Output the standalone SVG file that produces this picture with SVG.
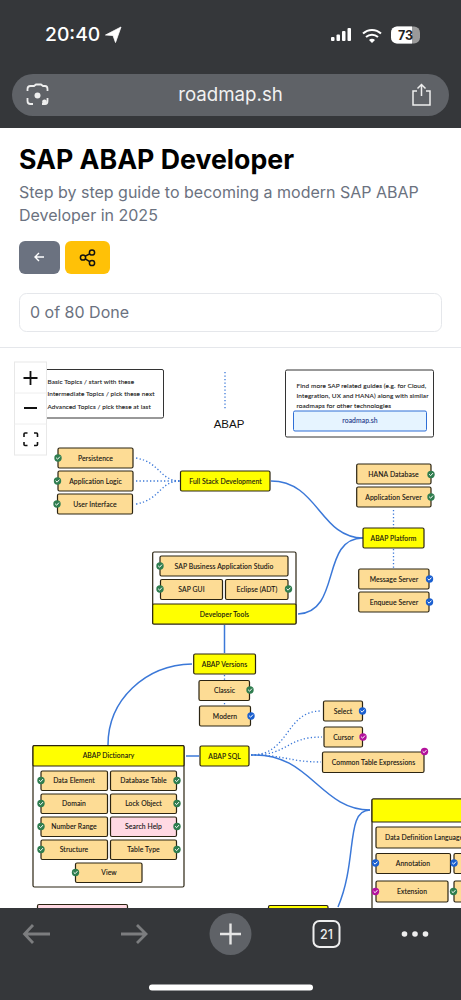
<svg xmlns="http://www.w3.org/2000/svg" width="461" height="1000" viewBox="0 0 461 1000">
<style>
.n{stroke:#2b2412;stroke-width:1.2}
.t{fill:#fddc95}.y{fill:#ffff00}.p{fill:#ffd9e3}
text{font-family:"Lato","Inter","Liberation Sans",sans-serif}
.l{font-size:6.8px;fill:#111;text-anchor:middle;letter-spacing:.1px;stroke:#111;stroke-width:.1}
.lg{font-size:6.4px;fill:#222;letter-spacing:.1px;stroke:#222;stroke-width:.1}
.lk{font-size:6.45px;fill:#222;letter-spacing:.1px;stroke:#222;stroke-width:.1}
.ui{font-family:"Inter","Liberation Sans",sans-serif}
.c{fill:none;stroke:#3b78d8;stroke-width:1.5}
.d{fill:none;stroke:#3b78d8;stroke-width:1.3;stroke-dasharray:1.3 2.2}
.g{fill:#2f7d4f}.b{fill:#1a5fd0}.m{fill:#b3129c}
.k{fill:none;stroke:#fff;stroke-width:1;stroke-linecap:round}
</style>
<defs>
<g id="ck"><circle r="3.7"/><path class="k" d="M-1.6,0 L-.4,1.2 L1.7,-1.1"/></g>
</defs>
<rect width="461" height="1000" fill="#fff"/>

<g id="page-header">
<text class="ui" x="19" y="169" font-size="26.700" font-weight="700" fill="#000">SAP ABAP Developer</text>
<text class="ui" x="19" y="198" font-size="16" fill="#6b7280">Step by step guide to becoming a modern SAP ABAP</text>
<text class="ui" x="19" y="221" font-size="16" fill="#6b7280">Developer in 2025</text>
<rect x="19" y="241" width="41" height="33" rx="6" fill="#6b7280"/>
<path d="M44,257 H35 M39,253 L35,257 L39,261" fill="none" stroke="#fff" stroke-width="1.400"/>
<rect x="65" y="241" width="45" height="33" rx="6" fill="#ffc107"/>
<g fill="none" stroke="#111" stroke-width="1.500"><circle cx="83" cy="257.500" r="2.600"/><circle cx="92" cy="252.500" r="2.600"/><circle cx="92" cy="263" r="2.600"/><path d="M85.300,256.200 L89.700,253.800 M85.300,258.800 L89.700,261.700"/></g>
<rect x="19.500" y="293.500" width="422" height="38" rx="7" fill="#fff" stroke="#e5e7eb"/>
<text class="ui" x="30" y="318" font-size="16" fill="#6b7280">0 of 80 Done</text>
<path d="M0,347.500 H461" stroke="#e5e7eb"/>
</g>

<g id="connectors">
<path class="d" d="M225,372 V410"/>
<path class="d" d="M136,458 C160,462 160,481 180,481"/>
<path class="d" d="M136,481 H180"/>
<path class="d" d="M136,504 C160,500 160,481 180,481"/>
<path class="c" d="M271,481 C318,481 320,538 363,538"/>
<path class="c" d="M298,614 C342,612 320,538 363,538"/>
<path class="d" d="M393.500,510 V528"/>
<path class="d" d="M393.500,549 V569"/>
<path class="c" d="M224.500,625 V653"/>
<path class="c" d="M192,664 C145,665 108,700 108,745"/>
<path class="d" d="M224.500,675 V705"/>
<path class="c" d="M186,756 H199"/>
<path class="d" d="M251,755 C290,755 285,711 321,711"/>
<path class="d" d="M251,755 C290,755 285,737 322,737"/>
<path class="d" d="M251,755 C285,755 290,762 321,762"/>
<path class="c" d="M251,755 C310,752 320,810 370,810"/>
<path class="c" d="M338,907 C358,860 345,810 370,810"/>
</g>

<g id="legend"><rect x="36" y="369.500" width="127.500" height="48.500" rx="1.500" fill="#fff" stroke="#333" stroke-width="1"/>
<text class="lg" x="47.500" y="383.500">Basic Topics / start with these</text>
<text class="lg" x="47.500" y="396">Intermediate Topics / pick these next</text>
<text class="lg" x="47.500" y="408.500">Advanced Topics / pick these at last</text></g>

<g id="zoom-controls"><rect x="14.500" y="362" width="32" height="93" fill="#fff" stroke="#e8e8e8"/>
<path d="M14.500,393 H46.500 M14.500,424 H46.500" stroke="#eee"/>
<path d="M23.500,378 H37.500 M30.500,371 V385 M24,408 H37" stroke="#111" stroke-width="1.800" fill="none"/>
<path d="M24,437 V434 Q24,433 25,433 H27.500 M34,433 H36.500 Q37.500,433 37.500,434 V437 M37.500,442 V444.500 Q37.500,445.500 36.500,445.500 H34 M27.500,445.500 H25 Q24,445.500 24,444.500 V442" stroke="#111" stroke-width="1.600" fill="none"/></g>

<g id="abap-title"><text x="229" y="428" font-size="11.500" text-anchor="middle" fill="#111" style="font-family:'Liberation Sans',sans-serif">ABAP</text></g>

<g id="links-box"><rect x="285.500" y="370" width="148" height="67" rx="1.500" fill="#fff" stroke="#333" stroke-width="1"/>
<text class="lk" x="296.500" y="387.500">Find more SAP related guides (e.g. for Cloud,</text>
<text class="lk" x="296.500" y="397.500">Integration, UX and HANA) along with similar</text>
<text class="lk" x="296.500" y="407.500">roadmaps for other technologies</text>
<rect x="293.500" y="411" width="133" height="20" rx="1.500" fill="#e6f4ff" stroke="#2f6fd6" stroke-width="1"/>
<text class="l" x="360" y="423" style="fill:#1e3a8a;stroke:#1e3a8a">roadmap.sh</text></g>

<g id="persistence"><rect class="n t" x="58" y="448" width="75" height="20" rx="1.500"/><text class="l" x="95.500" y="460.500">Persistence</text><use href="#ck" class="g" x="58" y="458"/></g>
<g id="application-logic"><rect class="n t" x="58" y="471" width="75" height="20" rx="1.500"/><text class="l" x="95.500" y="483.500">Application Logic</text><use href="#ck" class="g" x="57.500" y="481"/></g>
<g id="user-interface"><rect class="n t" x="57.500" y="494" width="75" height="20" rx="1.500"/><text class="l" x="95" y="506.500">User Interface</text><use href="#ck" class="g" x="57" y="504"/></g>
<g id="full-stack"><rect class="n y" x="180.500" y="471" width="89.500" height="20" rx="1.500"/><text class="l" x="225.500" y="483.500">Full Stack Development</text></g>

<g id="hana-database"><rect class="n t" x="356.700" y="464" width="74.300" height="20" rx="1.500"/><text class="l" x="393.500" y="476.500">HANA Database</text><use href="#ck" class="g" x="431" y="474.500"/></g>
<g id="application-server"><rect class="n t" x="356.700" y="487" width="74.300" height="20" rx="1.500"/><text class="l" x="393.500" y="499.500">Application Server</text><use href="#ck" class="g" x="431" y="497"/></g>
<g id="abap-platform"><rect class="n y" x="363" y="528" width="61" height="20" rx="1.500"/><text class="l" x="393.500" y="540.500">ABAP Platform</text></g>
<g id="message-server"><rect class="n t" x="358.700" y="569" width="70.300" height="20" rx="1.500"/><text class="l" x="394" y="581.500">Message Server</text><use href="#ck" class="b" x="429.500" y="579"/></g>
<g id="enqueue-server"><rect class="n t" x="358.700" y="592" width="70.300" height="20" rx="1.500"/><text class="l" x="394" y="604.500">Enqueue Server</text><use href="#ck" class="b" x="429.500" y="602"/></g>

<g id="developer-tools"><rect class="n" x="152.700" y="552" width="143.300" height="72" rx="1.500" fill="#fff"/>
<rect class="n y" x="152.700" y="604" width="143.300" height="20" rx="1"/><text class="l" x="224.500" y="616.500">Developer Tools</text></g>
<g id="sap-bas"><rect class="n t" x="160" y="556" width="128" height="20" rx="1.500"/><text class="l" x="224" y="568.500">SAP Business Application Studio</text><use href="#ck" class="g" x="160" y="566"/></g>
<g id="sap-gui"><rect class="n t" x="160.500" y="579.500" width="62" height="20" rx="1.500"/><text class="l" x="191.500" y="591.500">SAP GUI</text><use href="#ck" class="g" x="160" y="589"/></g>
<g id="eclipse"><rect class="n t" x="225.500" y="579.500" width="62.500" height="20" rx="1.500"/><text class="l" x="257" y="591.500">Eclipse (ADT)</text><use href="#ck" class="g" x="288.500" y="589"/></g>

<g id="abap-versions"><rect class="n y" x="193.700" y="654" width="61.800" height="20" rx="1.500"/><text class="l" x="224.500" y="666.500">ABAP Versions</text></g>
<g id="classic"><rect class="n t" x="199" y="680.500" width="50.500" height="20" rx="1.500"/><text class="l" x="224.500" y="692.500">Classic</text><use href="#ck" class="g" x="250" y="690"/></g>
<g id="modern"><rect class="n t" x="199.500" y="706" width="51" height="20" rx="1.500"/><text class="l" x="225" y="718.500">Modern</text><use href="#ck" class="b" x="251" y="716"/></g>
<g id="abap-sql"><rect class="n y" x="200" y="746" width="49" height="20" rx="1.500"/><text class="l" x="224.500" y="758.500">ABAP SQL</text></g>
<g id="select"><rect class="n t" x="323.500" y="701" width="39" height="20" rx="1.500"/><text class="l" x="343" y="713.500">Select</text><use href="#ck" class="b" x="362.500" y="711"/></g>
<g id="cursor"><rect class="n t" x="324" y="727" width="38.500" height="20" rx="1.500"/><text class="l" x="343.500" y="739.500">Cursor</text><use href="#ck" class="m" x="363" y="737"/></g>
<g id="cte"><rect class="n t" x="322.500" y="752" width="101.500" height="20.500" rx="1.500"/><text class="l" x="373.500" y="764.500">Common Table Expressions</text><use href="#ck" class="m" x="424.500" y="751.500"/></g>

<g id="abap-dictionary"><rect class="n" x="33" y="745.700" width="151" height="141.300" rx="1.500" fill="#fff"/>
<rect class="n y" x="33" y="745.700" width="151" height="20.300" rx="1"/><text class="l" x="108.500" y="758">ABAP Dictionary</text></g>
<g id="data-element"><rect class="n t" x="41" y="771" width="66.500" height="19.500" rx="1.500"/><text class="l" x="74" y="783">Data Element</text><use href="#ck" class="g" x="41" y="780.500"/></g>
<g id="database-table"><rect class="n t" x="110.500" y="771" width="66" height="19.500" rx="1.500"/><text class="l" x="143.500" y="783">Database Table</text><use href="#ck" class="g" x="177" y="780.500"/></g>
<g id="domain"><rect class="n t" x="41" y="794" width="66.500" height="19.500" rx="1.500"/><text class="l" x="74" y="806">Domain</text><use href="#ck" class="g" x="41" y="803.500"/></g>
<g id="lock-object"><rect class="n t" x="110.500" y="794" width="66" height="19.500" rx="1.500"/><text class="l" x="143.500" y="806">Lock Object</text><use href="#ck" class="g" x="177" y="803.500"/></g>
<g id="number-range"><rect class="n t" x="41" y="817" width="66.500" height="19.500" rx="1.500"/><text class="l" x="74" y="829">Number Range</text><use href="#ck" class="g" x="41" y="826.500"/></g>
<g id="search-help"><rect class="n p" x="110.500" y="817" width="66" height="19.500" rx="1.500"/><text class="l" x="143.500" y="829">Search Help</text><use href="#ck" class="g" x="177" y="826.500"/></g>
<g id="structure"><rect class="n t" x="41" y="840" width="66.500" height="19.500" rx="1.500"/><text class="l" x="74" y="852">Structure</text><use href="#ck" class="g" x="41" y="849.500"/></g>
<g id="table-type"><rect class="n t" x="110.500" y="840" width="66" height="19.500" rx="1.500"/><text class="l" x="143.500" y="852">Table Type</text><use href="#ck" class="g" x="177" y="849.500"/></g>
<g id="view"><rect class="n t" x="75.500" y="863" width="66.500" height="19.500" rx="1.500"/><text class="l" x="109" y="875">View</text><use href="#ck" class="g" x="75.500" y="872.500"/></g>

<g id="cds-group"><rect class="n" x="372" y="799" width="100" height="130" rx="1.500" fill="#fff"/>
<rect class="n y" x="372" y="799" width="100" height="23" rx="1"/></g>
<g id="ddl"><rect class="n t" x="376" y="827" width="100" height="21" rx="1.500"/><text class="l" x="385" y="840" style="text-anchor:start">Data Definition Language</text></g>
<g id="annotation"><rect class="n t" x="376" y="853.500" width="74.500" height="20" rx="1.500"/><text class="l" x="413" y="866">Annotation</text><use href="#ck" class="b" x="375.500" y="863"/></g>
<g id="annotation-next"><rect class="n t" x="454" y="853.500" width="20" height="20" rx="1.500"/><use href="#ck" class="b" x="454" y="863"/></g>
<g id="extension"><rect class="n t" x="376" y="881" width="72" height="21" rx="1.500"/><text class="l" x="412" y="894">Extension</text><use href="#ck" class="m" x="375.500" y="891.500"/></g>
<g id="extension-next"><rect class="n t" x="454" y="881" width="20" height="21" rx="1.500"/><use href="#ck" class="g" x="453.500" y="891.500"/></g>
<g id="lower-pink"><rect class="n p" x="37.500" y="904.500" width="90" height="20" rx="1.500"/></g>
<g id="lower-yellow"><rect class="n y" x="268.500" y="905.500" width="59.500" height="20" rx="1.500"/></g>

<g id="browser-top"><rect width="461" height="128" fill="#35373a"/>
<text class="ui" x="45" y="41" font-size="19.300" font-weight="500" fill="#fff">20:40</text>
<path d="M105.500,35 L121,27 L115.500,42.500 L113,35.500 Z" fill="#fff" stroke="#fff" stroke-width=".8"/>
<g fill="#fff"><rect x="331" y="37" width="3.500" height="4" rx="1"/><rect x="336.500" y="34.500" width="3.500" height="6.500" rx="1"/><rect x="342" y="31" width="3.500" height="10" rx="1"/><rect x="347.500" y="28" width="3.500" height="13" rx="1"/></g>
<path d="M363,33.500 A13,13 0 0 1 381,33.500 M366,37 A9,9 0 0 1 378,37" fill="none" stroke="#fff" stroke-width="2"/>
<path d="M369,40 A4,4 0 0 1 375,40 L372,43 Z" fill="#fff"/>
<rect x="391" y="26.500" width="29" height="17" rx="6" fill="#9a9a9a"/>
<path d="M397,26.500 H412 V43.500 H397 A6,6 0 0 1 391,37.500 V32.500 A6,6 0 0 1 397,26.500 Z" fill="#fff"/>
<text x="405.500" y="39.500" font-size="12.500" font-weight="700" text-anchor="middle" fill="#222" class="ui">73</text>
<rect x="12" y="74" width="437" height="42" rx="21" fill="#5f6267"/>
<text class="ui" x="230.500" y="101" font-size="18.700" text-anchor="middle" fill="#f1f1f1">roadmap.sh</text>
<g fill="none" stroke="#eee" stroke-width="1.800"><path d="M27.500,91 V89 Q27.500,86 30.500,86 H34 L36,84.500 H41 L43,86 H45 Q47.500,86 47.500,89 V91 M47.500,98 V101 Q47.500,104 45,104 H42 M33,104 H30.500 Q27.500,104 27.500,101 V98"/></g>
<circle cx="37.500" cy="95.500" r="3" fill="#eee"/><circle cx="44.500" cy="102" r="2.400" fill="#eee"/>
<path d="M417,91 H413 V105 H430 V91 H426 M421.500,96 V85 M417.500,88.500 L421.500,84.500 L425.500,88.500" fill="none" stroke="#eee" stroke-width="1.500"/>
</g>

<g id="browser-bottom"><rect y="908" width="461" height="92" fill="#35373a"/>
<path d="M50,934 H25 M33,925 L24.500,934 L33,943" fill="none" stroke="#7c7d7f" stroke-width="2.800"/>
<path d="M121,934 H146 M137,925 L146,934 L137,943" fill="none" stroke="#7c7d7f" stroke-width="2.800"/>
<circle cx="230.500" cy="934" r="21" fill="#5f6267"/>
<path d="M220,934 H241 M230.500,923.500 V944.500" stroke="#e6e6e6" stroke-width="2.400"/>
<rect x="313.500" y="921" width="26" height="26" rx="6" fill="none" stroke="#eee" stroke-width="2"/>
<text class="ui" x="326.500" y="939" font-size="12.500" font-weight="500" text-anchor="middle" fill="#eee">21</text>
<g fill="#eee"><circle cx="404.500" cy="934" r="2.800"/><circle cx="415" cy="934" r="2.800"/><circle cx="425.500" cy="934" r="2.800"/></g>
<rect x="149" y="984.500" width="164" height="6" rx="3" fill="#fff"/>
</g>
</svg>
